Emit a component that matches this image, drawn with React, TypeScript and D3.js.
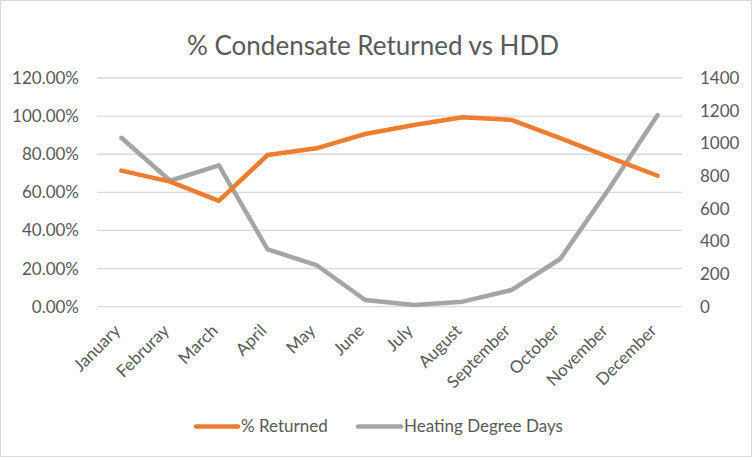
import React from "react";
import * as d3 from "d3";

const months = ["January","Februray","March","April","May","June","July","August","September","October","November","December"];
const pctReturned = [0.714, 0.656, 0.555, 0.796, 0.831, 0.906, 0.953, 0.994, 0.98, 0.885, 0.785, 0.687];
const hdd = [1034, 771, 865, 351, 255, 41, 10, 31, 102, 292, 720, 1173];
const leftTicks = [0, 0.2, 0.4, 0.6, 0.8, 1.0, 1.2];
const rightTicks = [0, 200, 400, 600, 800, 1000, 1200, 1400];

const W = 752, H = 457;
const M = { left: 97, right: 682, top: 78, bottom: 306.7 };
const FONT = "Lato, 'Open Sans', sans-serif";
const TXT = "#595959";
const ORANGE = "#ED7D31";
const GRAY = "#A5A5A5";

export default function App() {
  const x = d3.scaleBand<string>().domain(months).range([M.left, M.right]);
  const yL = d3.scaleLinear().domain([0, 1.2]).range([M.bottom, M.top]);
  const yR = d3.scaleLinear().domain([0, 1400]).range([M.bottom, M.top]);
  const cx = (m: string) => (x(m) as number) + x.bandwidth() / 2;
  const lineL = d3.line<number>().x((_, i) => cx(months[i])).y((d) => yL(d));
  const lineR = d3.line<number>().x((_, i) => cx(months[i])).y((d) => yR(d));

  return (
    <svg width={W} height={H} style={{ position: "absolute", left: 0, top: 0, background: "#fff" }} fontFamily={FONT}>
      <rect x={0.5} y={0.5} width={W - 1} height={H - 1} fill="#fff" stroke="#d9d9d9" />
      <text x={W / 2 - 3} y={55} textAnchor="middle" fontSize={26} fill={TXT}>% Condensate Returned vs HDD</text>
      {leftTicks.map((t) => (
        <line key={"g" + t} x1={M.left} x2={M.right} y1={yL(t)} y2={yL(t)} stroke="#d9d9d9" strokeWidth={1.3} />
      ))}
      {leftTicks.map((t) => (
        <text key={"l" + t} x={79} y={yL(t)} dy="0.35em" textAnchor="end" fontSize={17} fill={TXT}>
          {d3.format(".2%")(t)}
        </text>
      ))}
      {rightTicks.map((t) => (
        <text key={"r" + t} x={700} y={yR(t)} dy="0.35em" textAnchor="start" fontSize={17} fill={TXT}>
          {t}
        </text>
      ))}
      {months.map((m) => (
        <text key={m} transform={`translate(${cx(m)},${M.bottom + 25}) rotate(-45)`} textAnchor="end" fontSize={17} fill={TXT}>
          {m}
        </text>
      ))}
      <path d={lineR(hdd) as string} fill="none" stroke={GRAY} strokeWidth={4.5} strokeLinejoin="round" strokeLinecap="round" />
      <path d={lineL(pctReturned) as string} fill="none" stroke={ORANGE} strokeWidth={4.5} strokeLinejoin="round" strokeLinecap="round" />
      <g>
        <line x1={196} x2={238} y1={426.5} y2={426.5} stroke={ORANGE} strokeWidth={4.5} strokeLinecap="round" />
        <text x={241} y={426.5} dy="0.35em" fontSize={17} fill={TXT}>% Returned</text>
        <line x1={358} x2={401} y1={426.5} y2={426.5} stroke={GRAY} strokeWidth={4.5} strokeLinecap="round" />
        <text x={404} y={426.5} dy="0.35em" fontSize={17} fill={TXT}>Heating Degree Days</text>
      </g>
    </svg>
  );
}
